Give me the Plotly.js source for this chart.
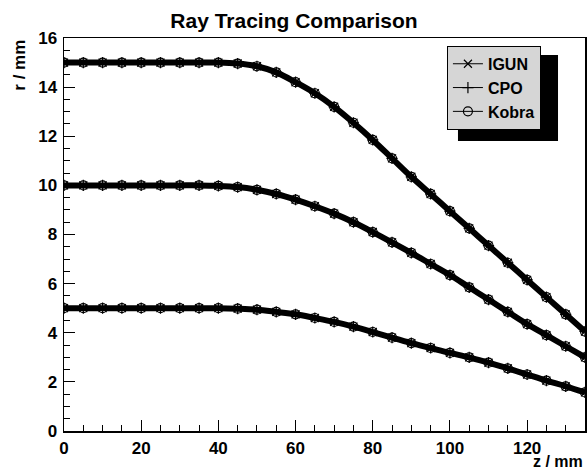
<!DOCTYPE html>
<html>
<head>
<meta charset="utf-8">
<script src="https://cdn.plot.ly/plotly-3.0.1.min.js"></script>
<style>html,body{margin:0;padding:0;background:#fff;}#chart{width:588px;height:472px;}</style>
</head>
<body>
<div id="chart"></div>
<script>
// z positions (mm)
var zPos = [0,5,10,15,20,25,30,35,40,45,50,55,60,65,70,75,80,85,90,95,100,105,110,115,120,125,130,135];
// Ray starting at r = 15 mm
var rayOuter = [15,15,15,15,15,15,15,15,15,14.96,14.85,14.6,14.2,13.75,13.2,12.55,11.85,11.1,10.35,9.65,8.95,8.25,7.55,6.85,6.15,5.45,4.75,4.05];
// Ray starting at r = 10 mm
var rayMiddle = [10,10,10,10,10,10,10,10,9.98,9.93,9.82,9.65,9.42,9.15,8.85,8.5,8.1,7.68,7.25,6.8,6.35,5.85,5.35,4.85,4.35,3.9,3.45,3.0];
// Ray starting at r = 5 mm
var rayInner = [5,5,5,5,5,5,5,5,5,4.98,4.94,4.85,4.75,4.6,4.44,4.25,4.03,3.8,3.58,3.38,3.18,3.0,2.78,2.55,2.3,2.05,1.82,1.57];

var codes = ['IGUN','CPO','Kobra'];
var symbols = ['x-thin-open','cross-thin-open','circle-open'];
var rays = [rayOuter, rayMiddle, rayInner];

var traces = [];
// dense marker band (drawn from IGUN values)
rays.forEach(function(r){
  traces.push({x: zPos, y: r, mode: 'lines', line: {color: '#000', width: 6, shape: 'spline'},
    showlegend: false, hoverinfo: 'skip'});
});
codes.forEach(function(code, ci){
  rays.forEach(function(r, ri){
    traces.push({
      x: zPos, y: r, name: code, legendgroup: code, showlegend: ri === 0,
      mode: 'lines+markers',
      line: {color: '#000', width: 1, shape: 'spline'},
      marker: {symbol: symbols[ci], size: ci === 2 ? 9 : 8, color: '#000', line: {color: '#000', width: 1.2}}
    });
  });
});

var fontFam = 'Liberation Sans, Arial, Helvetica, sans-serif';
var layout = {
  width: 588, height: 472,
  margin: {l: 64, r: 3, t: 38, b: 41, pad: 0},
  paper_bgcolor: '#fff', plot_bgcolor: '#fff',
  font: {family: fontFam, color: '#000', size: 17, weight: 'bold'},
  title: {text: 'Ray Tracing Comparison', font: {family: fontFam, size: 21, weight: 'bold', color: '#000'},
    x: 0.5, xanchor: 'center', y: 0.957, yanchor: 'middle'},
  xaxis: {
    range: [0, 135], tick0: 0, dtick: 20, ticks: 'inside', ticklen: 11, tickwidth: 1, tickcolor: '#000',
    minor: {dtick: 5, ticks: 'inside', ticklen: 6, tickwidth: 1, tickcolor: '#000'},
    showline: true, linecolor: '#000', linewidth: 1.5, mirror: true,
    showgrid: false, zeroline: false, tickfont: {size: 17, weight: 'bold'}, ticklabelstandoff: 1
  },
  yaxis: {
    range: [0, 16], tick0: 0, dtick: 2, ticks: 'inside', ticklen: 11, tickwidth: 1, tickcolor: '#000',
    minor: {dtick: 0.5, ticks: 'inside', ticklen: 6, tickwidth: 1, tickcolor: '#000'},
    showline: true, linecolor: '#000', linewidth: 1.5, mirror: true,
    showgrid: false, zeroline: false, tickfont: {size: 17, weight: 'bold'}, ticklabelstandoff: 2
  },
  legend: {x: 0.735, xanchor: 'left', y: 0.98, yanchor: 'top', bgcolor: '#d6d6d6', bordercolor: '#000', borderwidth: 1,
    font: {size: 16, weight: 'bold', family: fontFam}, itemwidth: 30, tracegroupgap: 0, traceorder: 'normal'},
  shapes: [{type: 'rect', xref: 'paper', yref: 'paper', x0: 0.7562, x1: 0.9482, y0: 0.7379, y1: 0.9567,
    fillcolor: '#000', line: {width: 0}, layer: 'above'}],
  annotations: [
    {text: 'z / mm', xref: 'paper', yref: 'paper', x: 1, xanchor: 'right', y: -0.1043, yanchor: 'bottom',
      showarrow: false, font: {size: 16, weight: 'bold', family: fontFam}},
    {text: 'r / mm', xref: 'paper', yref: 'paper', x: -0.086, xanchor: 'center', y: 1.0, yanchor: 'top',
      textangle: -90, showarrow: false, font: {size: 17, weight: 'bold', family: fontFam}}
  ]
};
Plotly.newPlot('chart', traces, layout, {displayModeBar: false, staticPlot: true});
</script>
</body>
</html>
